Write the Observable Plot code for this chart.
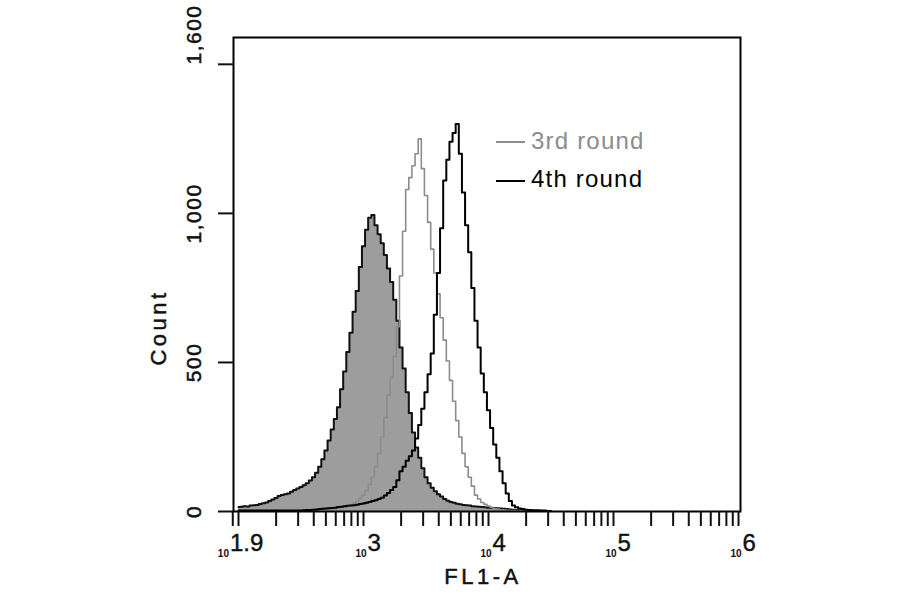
<!DOCTYPE html>
<html><head><meta charset="utf-8">
<script src="https://cdn.jsdelivr.net/npm/d3@7"></script>
<script src="https://cdn.jsdelivr.net/npm/@observablehq/plot@0.6"></script>
<style>
body{margin:0;background:#fff;font-family:"Liberation Sans",Arial,sans-serif;}
#wrap{position:relative;width:900px;height:594px;}
.leg{position:absolute;font-size:24px;line-height:24px;letter-spacing:1.2px;white-space:nowrap;}
.sw{position:absolute;height:2px;width:29px;}
</style></head><body><div id="wrap"></div>
<script>
// FL1-A channel bin positions
const fl1 = [100, 105.9, 112.2, 118.9, 125.9, 133.4, 141.3, 149.6, 158.5, 167.9,
  177.8, 188.4, 199.5, 211.3, 223.9, 237.1, 251.2, 266.1, 281.8, 298.5,
  316.2, 335.0, 354.8, 375.8, 398.1, 421.7, 446.7, 473.2, 501.2, 530.9,
  562.3, 595.7, 631.0, 668.3, 707.9, 749.9, 794.3, 841.4, 891.3, 944.1,
  1000, 1059, 1122, 1189, 1259, 1334, 1413, 1496, 1585, 1679,
  1778, 1884, 1995, 2113, 2239, 2371, 2512, 2661, 2818, 2985,
  3162, 3350, 3548, 3758, 3981, 4217, 4467, 4732, 5012, 5309,
  5623, 5957, 6310, 6683, 7079, 7499, 7943, 8414, 8913, 9441,
  10000, 10593, 11220, 11885, 12589, 13335, 14125, 14962, 15849, 16788,
  17783, 18836, 19953, 21135, 22387, 23714, 25119, 26607, 28184, 29854,
  31623];
// control (filled gray)
const control = [15, 16, 18, 17, 20, 21, 22, 25, 28, 30,
  35, 40, 45, 52, 55, 58, 60, 66, 72, 77,
  82, 88, 95, 104, 115, 130, 150, 175, 205, 238,
  275, 310, 350, 410, 470, 535, 600, 670, 740, 820,
  890, 945, 985, 995, 960, 930, 900, 860, 815, 770,
  710, 640, 550, 480, 400, 330, 265, 215, 180, 145,
  115, 95, 80, 68, 58, 50, 42, 36, 32, 29,
  26, 24, 22, 21, 20, 18, 17, 16, 15, 14,
  13, 12, 12, 11, 10, 9, 8, 7, 6, 5,
  5, 4, 4, 3, 3, 3, 3, 2, 2, 2,
  2];
// 3rd round
const round3 = [3, 3, 3, 3, 3, 3, 3, 3, 3, 3,
  3, 3, 3, 3, 3, 3, 3, 3, 3, 3,
  3, 3, 4, 4, 5, 5, 6, 7, 8, 9,
  10, 11, 12, 13, 15, 18, 22, 28, 35, 44,
  55, 70, 90, 115, 150, 195, 250, 315, 390, 450,
  520, 620, 790, 940, 1080, 1120, 1160, 1200, 1250, 1150,
  1060, 970, 880, 800, 730, 650, 575, 505, 440, 370,
  305, 250, 195, 150, 115, 85, 55, 42, 30, 24,
  18, 14, 10, 8, 6, 5, 4, 3, 3, 3,
  3, 2, 2, 2, 2, 2, 2, 2, 2, 2,
  2];
// 4th round
const round4 = [3, 3, 3, 3, 3, 3, 3, 3, 3, 3,
  3, 3, 3, 3, 3, 3, 3, 3, 3, 3,
  3, 4, 5, 5, 6, 7, 8, 9, 10, 11,
  12, 13, 15, 16, 18, 19, 20, 21, 23, 25,
  27, 29, 32, 35, 38, 42, 46, 54, 62, 72,
  82, 105, 135, 150, 170, 185, 205, 245, 290, 345,
  400, 460, 530, 660, 800, 950, 1110, 1180, 1240, 1270,
  1300, 1200, 1070, 960, 870, 750, 640, 550, 463, 400,
  340, 280, 225, 180, 135, 95, 60, 35, 20, 14,
  10, 8, 6, 5, 4, 3, 3, 3, 3, 2,
  2];

const yTicks = [0, 500, 1000, 1500];
const yLabelValues = [0, 500, 1000, 1600];
const yLabels = ["0", "500", "1,000", "1,600"];
const xTicks = [90, 100, 200, 300, 400, 500, 600, 700, 800, 900,
  1000, 2000, 3000, 4000, 5000, 6000, 7000, 8000, 9000,
  10000, 20000, 30000, 40000, 50000, 60000, 70000, 80000, 90000,
  100000, 200000, 300000, 400000, 500000, 600000, 700000, 800000, 900000, 1000000];
const xLabelValues = [79.43, 1000, 10000, 100000, 1000000];
const xLabelExps = ["1.9", "3", "4", "5", "6"];
const yTitle = "Count";
const xTitle = "FL1-A";
const seriesNames = ["3rd round", "4th round"];
const seriesColors = ["#8c8c8c", "#000000"];

const rows = fl1.map((v, i) => ({v, c: control[i], r3: round3[i], r4: round4[i]}));
const yLab = yLabelValues.map((v, i) => ({v, t: yLabels[i]}));
const xLab = xLabelValues.map((v, i) => ({v, t: xLabelExps[i]}));

const svg = Plot.plot({
  width: 900, height: 594,
  marginLeft: 233, marginRight: 160, marginTop: 37, marginBottom: 83,
  style: {fontFamily: "Liberation Sans, Arial, sans-serif", background: "transparent", color: "#111"},
  x: {type: "log", domain: [Math.pow(10, 1.96), Math.pow(10, 6.016)]},
  y: {domain: [0, 1590]},
  marks: [
    Plot.areaY(rows, {x: "v", y: "c", fill: "#9d9d9d", curve: "step"}),
    Plot.lineY(rows, {x: "v", y: "c", stroke: "#111", strokeWidth: 2, curve: "step"}),
    Plot.lineY(rows, {x: "v", y: "r3", stroke: seriesColors[0], strokeWidth: 1.6, curve: "step"}),
    Plot.lineY(rows, {x: "v", y: "r4", stroke: seriesColors[1], strokeWidth: 2, curve: "step"}),
    Plot.frame({stroke: "#000", strokeWidth: 2}),
    Plot.axisX({ticks: xTicks, tickSize: 15, tickFormat: () => "", strokeWidth: 2, label: null}),
    Plot.axisY({ticks: yTicks, tickSize: 15, tickFormat: () => "", strokeWidth: 2, label: null}),
    Plot.text(yLab, {y: "v", text: "t", frameAnchor: "left", dx: -33, rotate: -90,
      textAnchor: "middle", lineAnchor: "bottom", fontSize: 21, fill: "#111",
      stroke: "#111", strokeWidth: 0.5}),
    Plot.text(xLab, {x: "v", text: () => "10", frameAnchor: "bottom", dx: 3, dy: 45,
      textAnchor: "end", lineAnchor: "bottom", fontSize: 10, fontWeight: "bold", fill: "#111"}),
    Plot.text(xLab, {x: "v", text: "t", frameAnchor: "bottom", dx: 4, dy: 39,
      textAnchor: "start", lineAnchor: "bottom", fontSize: 24, fill: "#111",
      stroke: "#111", strokeWidth: 0.4}),
    Plot.text([yTitle], {frameAnchor: "left", dx: -68, dy: 53, rotate: -90,
      textAnchor: "middle", lineAnchor: "bottom", fontSize: 22, fill: "#111",
      stroke: "#111", strokeWidth: 0.5}),
    Plot.text([xTitle], {frameAnchor: "bottom", dx: -4, dy: 72,
      textAnchor: "middle", lineAnchor: "bottom", fontSize: 22, fill: "#111",
      stroke: "#111", strokeWidth: 0.5})
  ]
});
d3.select(svg).selectAll("text").each(function() {
  const t = this.textContent;
  if (t === yTitle || t === xTitle) this.style.letterSpacing = "3.5px";
  else if (yLabels.includes(t)) this.style.letterSpacing = "1.5px";
});

const wrap = document.getElementById("wrap");
wrap.appendChild(svg);
svg.style.position = "absolute"; svg.style.left = "0"; svg.style.top = "0";

const legTops = [129, 167];
const swTops = [141, 180];
seriesNames.forEach((name, i) => {
  const sw = document.createElement("div");
  sw.className = "sw";
  sw.style.left = "496px"; sw.style.top = swTops[i] + "px"; sw.style.background = seriesColors[i];
  wrap.appendChild(sw);
  const t = document.createElement("div");
  t.className = "leg";
  t.style.left = "531px"; t.style.top = legTops[i] + "px"; t.style.color = seriesColors[i];
  t.textContent = name;
  wrap.appendChild(t);
});
</script></body></html>
